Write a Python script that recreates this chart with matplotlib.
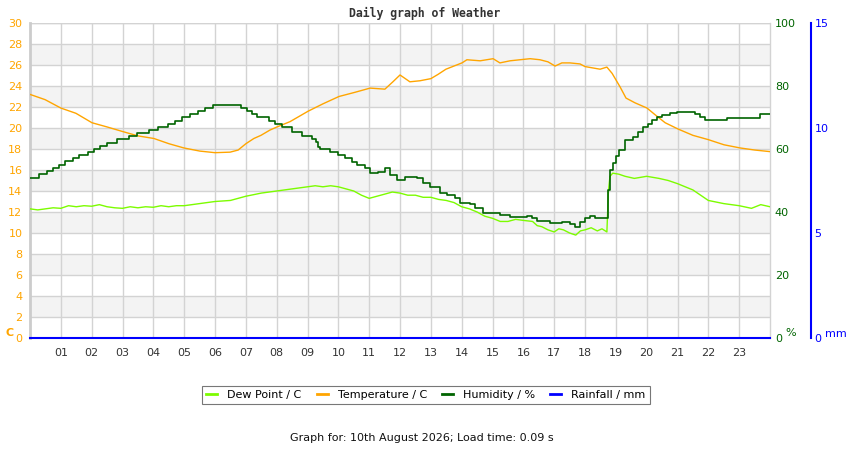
import matplotlib
matplotlib.use("Agg")
import matplotlib.pyplot as plt
from matplotlib.lines import Line2D

# ---- data (hours of day, values) ----
temp_hours = [0.0, 0.49, 1.0, 1.49, 2.01, 2.5, 3.02, 3.5, 4.02, 4.51, 4.99, 5.51, 6.0,
              6.49, 6.75, 7.0, 7.26, 7.49, 7.78, 8.01, 8.43, 9.02, 9.5, 10.02, 10.54,
              11.03, 11.51, 11.77, 12.0, 12.32, 12.65, 13.0, 13.23, 13.49, 14.01, 14.17,
              14.6, 15.02, 15.24, 15.57, 15.89, 16.22, 16.54, 16.8, 17.03, 17.25, 17.51,
              17.84, 18.0, 18.49, 18.71, 18.88, 19.14, 19.33, 19.62, 20.01, 20.3, 20.6,
              21.02, 21.5, 21.99, 22.51, 23.03, 23.51, 24.0]
temp_values = [23.2, 22.7, 21.9, 21.4, 20.5, 20.1, 19.65, 19.25, 19.0, 18.5, 18.1, 17.8, 17.65,
               17.7, 17.9, 18.5, 19.0, 19.3, 19.8, 20.1, 20.6, 21.6, 22.3, 23.0, 23.4,
               23.8, 23.7, 24.4, 25.05, 24.4, 24.5, 24.7, 25.1, 25.6, 26.2, 26.5,
               26.4, 26.6, 26.2, 26.4, 26.5, 26.6, 26.5, 26.3, 25.9, 26.2, 26.2,
               26.1, 25.85, 25.6, 25.8, 25.2, 23.9, 22.85, 22.4, 21.9, 21.2, 20.5,
               19.9, 19.3, 18.9, 18.4, 18.1, 17.9, 17.75]

hum_hours = [0.0, 0.30, 0.54, 0.73, 0.95, 1.15, 1.38, 1.6, 1.89, 2.09, 2.27, 2.49, 2.81,
             3.22, 3.46, 3.87, 4.16, 4.49, 4.70, 4.92, 5.19, 5.46, 5.68, 5.95, 6.83,
             7.03, 7.19, 7.35, 7.76, 7.95, 8.16, 8.49, 8.81, 9.14, 9.28, 9.35, 9.41,
             9.73, 10.0, 10.22, 10.43, 10.6, 10.86, 11.03, 11.3, 11.51, 11.68, 11.89,
             12.16, 12.54, 12.76, 12.97, 13.3, 13.51, 13.78, 13.95, 14.27, 14.43, 14.7,
             15.24, 15.57, 16.11, 16.27, 16.43, 16.87, 17.24, 17.51, 17.68, 17.84,
             18.0, 18.16, 18.32, 18.71, 18.76, 18.81, 18.9, 19.0, 19.11, 19.3, 19.57,
             19.73, 19.89, 20.05, 20.16, 20.33, 20.49, 20.76, 20.97, 21.57, 21.73,
             21.89, 22.59, 23.68, 24.0]
hum_values = [50.9, 52.1, 53.0, 53.9, 54.8, 56.1, 57.0, 58.1, 58.9, 59.9, 61.0, 61.8, 63.1,
              64.1, 65.0, 65.9, 66.9, 67.9, 69.0, 70.1, 71.0, 72.1, 72.9, 73.9, 72.9,
              72.1, 71.0, 70.1, 69.0, 67.8, 67.1, 65.5, 64.1, 63.1, 62.3, 60.7, 59.9,
              59.2, 58.1, 57.0, 56.0, 54.9, 53.9, 52.3, 52.8, 53.9, 51.7, 50.2,
              51.0, 50.7, 49.1, 48.0, 45.9, 45.4, 44.3, 42.8, 42.5, 41.2, 39.6,
              39.0, 38.5, 38.8, 38.0, 37.2, 36.4, 36.9, 36.2, 35.3, 36.9,
              38.0, 38.7, 38.0, 38.0, 47.0, 53.3, 55.5, 57.8, 59.7, 62.9, 63.9,
              65.5, 66.9, 67.9, 69.2, 70.1, 70.8, 71.5, 71.9, 71.1, 70.1,
              69.1, 69.9, 71.0, 71.0]

dew_hours = [0.0, 0.25, 0.5, 0.75, 1.0, 1.25, 1.5, 1.75, 2.0, 2.25, 2.5, 2.75, 3.0, 3.25,
             3.5, 3.75, 4.0, 4.25, 4.5, 4.75, 5.0, 5.5, 6.0, 6.5, 7.0, 7.5, 8.0, 8.25,
             8.5, 8.75, 9.0, 9.25, 9.5, 9.75, 10.0, 10.25, 10.5, 10.75, 11.0, 11.25,
             11.5, 11.75, 12.0, 12.25, 12.5, 12.75, 13.0, 13.25, 13.5, 13.75, 14.0,
             14.25, 14.5, 14.75, 15.0, 15.25, 15.5, 15.75, 16.0, 16.3, 16.45, 16.6,
             16.8, 17.0, 17.15, 17.3, 17.5, 17.7, 17.85, 18.0, 18.2, 18.4, 18.55,
             18.71, 18.76, 18.81, 18.9, 19.1, 19.3, 19.6, 20.0, 20.4, 20.7, 21.0,
             21.5, 22.0, 22.5, 23.0, 23.4, 23.7, 24.0]
dew_values = [12.3, 12.2, 12.3, 12.4, 12.35, 12.6, 12.5, 12.6, 12.55, 12.7, 12.5, 12.4, 12.35,
              12.5, 12.4, 12.5, 12.45, 12.6, 12.5, 12.6, 12.6, 12.8, 13.0, 13.1, 13.5,
              13.8, 14.0, 14.1, 14.2, 14.3, 14.4, 14.5, 14.4, 14.5, 14.4, 14.2, 14.0,
              13.6, 13.3, 13.5, 13.7, 13.9, 13.8, 13.6, 13.6, 13.4, 13.4, 13.2, 13.1,
              12.9, 12.5, 12.3, 12.0, 11.6, 11.4, 11.1, 11.1, 11.3, 11.2, 11.1, 10.7,
              10.6, 10.3, 10.1, 10.4, 10.3, 10.0, 9.8, 10.2, 10.3, 10.5, 10.2, 10.4,
              10.1, 14.0, 15.4, 15.7, 15.6, 15.4, 15.2, 15.4, 15.2, 15.0, 14.7,
              14.1, 13.1, 12.8, 12.6, 12.35, 12.7, 12.5]

rain_hours = [0.0, 24.0]
rain_values = [0.0, 0.0]

hour_ticks = list(range(1, 24))
hour_labels = [f"{h:02d}" for h in hour_ticks]
temp_ticks = list(range(0, 31, 2))
hum_ticks = list(range(0, 101, 20))
rain_ticks = [0, 5, 10, 15]

C_DEW = "#7CFC00"
C_TEMP = "#FFA500"
C_HUM = "#006400"
C_RAIN = "#0000FF"
GRID = "#d3d3d3"

W, H = 850, 450
fig = plt.figure(figsize=(8.5, 4.5), dpi=100)
fig.patch.set_facecolor("white")
ax = fig.add_axes([30 / W, 112 / H, 740 / W, 315 / H])
ax.set_xlim(0, 24)
ax.set_ylim(0, 30)

for y0 in range(2, 30, 4):
    ax.axhspan(y0, y0 + 2, color="#f3f3f3", lw=0, zorder=0)

ax.set_yticks(temp_ticks)
ax.set_xticks(hour_ticks)
ax.set_xticklabels(hour_labels)
ax.grid(True, color=GRID, lw=1, zorder=1)
ax.set_axisbelow(True)
for s in ["top", "bottom"]:
    ax.spines[s].set_visible(False)
ax.spines["left"].set_color("#cccccc")
ax.spines["left"].set_linewidth(2)
ax.spines["right"].set_color(GRID)
ax.spines["right"].set_linewidth(1)
ax.axhline(30, color=GRID, lw=1, zorder=1)
ax.tick_params(axis="y", length=0, pad=5.5, labelsize=8, labelcolor=C_TEMP)
ax.tick_params(axis="x", length=0, pad=7, labelsize=8, labelcolor="#333333")

ax.plot(dew_hours, dew_values, color=C_DEW, lw=1.0, zorder=3)
ax.plot(temp_hours, temp_values, color=C_TEMP, lw=1.0, zorder=3)

ax2 = ax.twinx()
ax2.set_ylim(0, 100)
ax2.set_yticks(hum_ticks)
for s in ax2.spines.values():
    s.set_visible(False)
ax2.tick_params(axis="y", length=0, pad=3.5, labelsize=8, labelcolor=C_HUM)
ax2.plot(hum_hours, hum_values, color=C_HUM, lw=1.2, drawstyle="steps-post", zorder=3)

ax3 = ax.twinx()
ax3.set_ylim(0, 15)
ax3.set_yticks(rain_ticks)
for s in ["top", "bottom", "left"]:
    ax3.spines[s].set_visible(False)
ax3.spines["right"].set_position(("outward", 29.5))
ax3.spines["right"].set_color(C_RAIN)
ax3.spines["right"].set_linewidth(1.5)
ax3.tick_params(axis="y", length=0, pad=2.5, labelsize=8, labelcolor=C_RAIN)
ax3.plot(rain_hours, rain_values, color=C_RAIN, lw=1.5, clip_on=False, zorder=4)

fig.text(5 / W, 1 - 333 / H, "C", color=C_TEMP, fontsize=8, fontweight="bold",
         ha="left", va="center")
fig.text(785 / W, 1 - 333 / H, "%", color=C_HUM, fontsize=8, ha="left", va="center")
fig.text(825 / W, 1 - 334 / H, "mm", color=C_RAIN, fontsize=8, ha="left", va="center")

fig.text(0.5, 1 - 13 / H, "Daily graph of Weather", family="DejaVu Sans Mono",
         fontweight="bold", fontsize=8.3, color="#333333", ha="center", va="center")

handles = [Line2D([], [], color=C_DEW, lw=2),
           Line2D([], [], color=C_TEMP, lw=2),
           Line2D([], [], color=C_HUM, lw=2),
           Line2D([], [], color=C_RAIN, lw=2)]
labels = ["Dew Point / C", "Temperature / C", "Humidity / %", "Rainfall / mm"]
leg = fig.legend(handles, labels, loc="center", bbox_to_anchor=(426 / W, 1 - 395 / H),
                 ncol=4, fontsize=8, frameon=True, fancybox=False, handlelength=1.0,
                 handletextpad=0.9, columnspacing=1.35, borderpad=0.35)
leg.get_frame().set_edgecolor("#555555")
leg.get_frame().set_linewidth(0.8)

fig.text(422 / W, 1 - 438 / H, "Graph for: 10th August 2026; Load time: 0.09 s",
         fontsize=8, color="#111111", ha="center", va="center")

fig.savefig("out.png", dpi=100)
